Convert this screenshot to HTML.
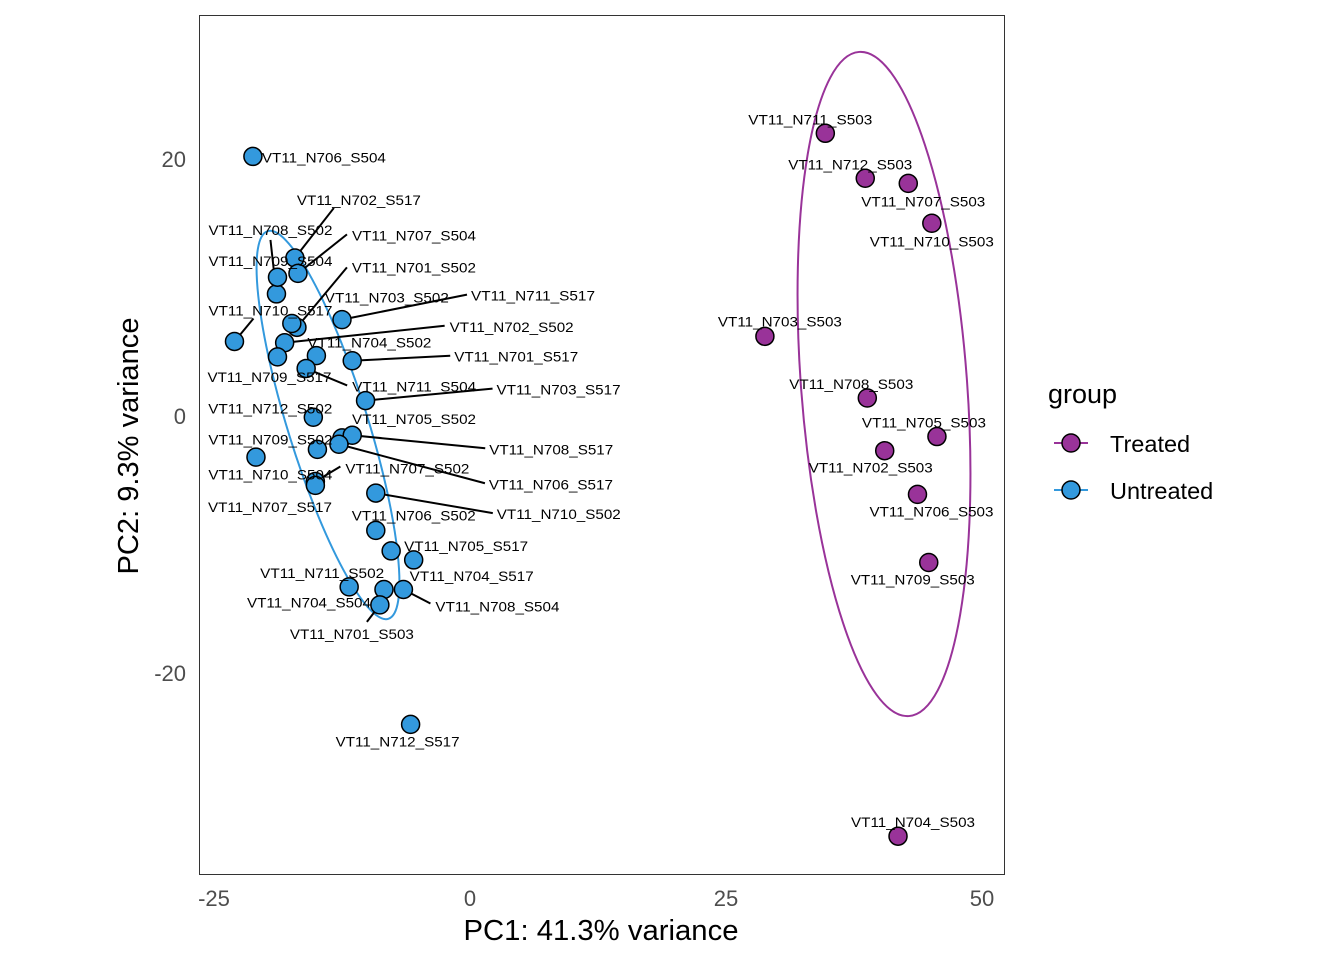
<!DOCTYPE html>
<html><head><meta charset="utf-8"><style>
body{margin:0;background:#fff;}
svg text{font-family:"Liberation Sans",Arial,sans-serif;}
</style></head><body>
<svg id="chart" width="1344" height="960" xmlns="http://www.w3.org/2000/svg">
<rect x="199.5" y="15.5" width="805" height="859" fill="#fff" stroke="#333" stroke-width="1"/>
<g id="ellipses"></g>
<g id="lines"></g>
<g id="points"></g>
<g id="labels"></g>
<g id="axes"></g>
<text x="601" y="940" font-size="29" text-anchor="middle" fill="#000" textLength="275" lengthAdjust="spacingAndGlyphs">PC1: 41.3% variance</text>
<text transform="translate(138,446) rotate(-90)" font-size="29" text-anchor="middle" fill="#000" textLength="257" lengthAdjust="spacingAndGlyphs">PC2: 9.3% variance</text>
<g>
<text x="1048" y="403" font-size="27" fill="#000">group</text>
<g>
<line x1="1054" y1="443" x2="1088" y2="443" stroke="#993399" stroke-width="2"/>
<circle cx="1071" cy="443" r="9" fill="#993399" stroke="#000" stroke-width="1.5"/>
<text x="1110" y="452" font-size="23.5" fill="#000">Treated</text></g>
<g>
<line x1="1054" y1="490" x2="1088" y2="490" stroke="#3399dd" stroke-width="2"/>
<circle cx="1071" cy="490" r="9" fill="#3399dd" stroke="#000" stroke-width="1.5"/>
<text x="1110" y="499" font-size="23.5" fill="#000">Untreated</text></g>
</g>
</svg>
<script>
const names=["N706_S504","N702_S517","N708_S502","N707_S504","N709_S504","N701_S502","N710_S517","N703_S502","N711_S517","N702_S502","N704_S502","N701_S517","N709_S517","N711_S504","N703_S517","N712_S502","N705_S502","N709_S502","N708_S517","N706_S517","N707_S502","N710_S504","N710_S502","N707_S517","N706_S502","N705_S517","N704_S517","N711_S502","N708_S504","N704_S504","N701_S503","N712_S517",
"N711_S503","N712_S503","N707_S503","N710_S503","N703_S503","N708_S503","N705_S503","N702_S503","N706_S503","N709_S503","N704_S503"];
const pc1=[-21.2,-17.1,-18.9,-16.8,-18.8,-16.9,-23.0,-17.4,-12.5,-18.1,-15.0,-11.5,-18.8,-16.0,-10.2,-15.3,-12.5,-14.9,-11.5,-12.8,-15.1,-15.1,-9.2,-20.9,-9.2,-7.7,-5.5,-11.8,-6.5,-8.4,-8.8,-5.8,
34.7,38.6,42.8,45.1,28.8,38.8,45.6,40.5,43.7,44.8,41.8];
const pc2=[20.2,12.3,9.5,11.1,10.8,6.9,5.8,7.2,7.5,5.7,4.7,4.3,4.6,3.7,1.2,-0.1,-1.7,-2.6,-1.5,-2.2,-5.1,-5.4,-6.0,-3.2,-8.9,-10.5,-11.2,-13.3,-13.5,-13.5,-14.7,-24.0,
22.0,18.5,18.1,15.0,6.2,1.4,-1.6,-2.7,-6.1,-11.4,-32.7];
const groups=Array(32).fill("Untreated").concat(Array(11).fill("Treated"));
const xTicks=[-25,0,25,50];
const yTicks=[-20,0,20];
// label layout (repel offsets, px)
const labOff=[[71,1],[64,-58],[-6,-64],[116,-38],[-7,-16],[117,-60],[36,-31],[95,-26],[191,-24],[227,-16],[53,-13],[164,-4],[-8,20],[108,18],[193,-11],[-43,-9],[72,-19],[-47,-10],[199,14],[212,40],[92,-13],[-45,-11],[183,21],[14,50],[38,-15],[75,-5],[58,16],[-27,-14],[94,17],[-75,13],[-28,29],[-13,17],
[-15,-14],[-15,-14],[15,18],[0,18],[15,-15],[-16,-14],[-13,-14],[-14,17],[14,17],[-16,17],[15,-14]];
const segOff=[null,[39,-50],[-6,-54],[49,-39],null,[50,-60],[19,-23],null,[125,-25],[160,-17],null,[98,-5],null,[41,17],[127,-12],null,null,null,[133,13],[146,39],[25,-15],null,[117,20],null,null,null,null,null,[27,14],null,[-13,17],null,
null,null,null,null,null,null,null,null,null,null,null];
const colors={Treated:"#993399",Untreated:"#3399dd"};
const X=v=>470+v*10.24, Y=v=>416-v*12.85;
const NS="http://www.w3.org/2000/svg";
function mk(tag,attrs,parent){const e=document.createElementNS(NS,tag);for(const k in attrs)e.setAttribute(k,attrs[k]);document.getElementById(parent).appendChild(e);return e;}
let e1=mk("ellipse",{cx:884,cy:384,rx:83,ry:333,transform:"rotate(-4.3 884 384)",fill:"none",stroke:"#993399","stroke-width":2},"ellipses");


let e2=mk("ellipse",{cx:328,cy:425,rx:40,ry:203,transform:"rotate(-17.3 328 425)",fill:"none",stroke:"#3399dd","stroke-width":2},"ellipses");


for(let i=0;i<names.length;i++){
 const px=X(pc1[i]),py=Y(pc2[i]);
 const c=mk("circle",{cx:px,cy:py,r:9,fill:colors[groups[i]],stroke:"#000","stroke-width":1.5},"points");
 
 
 if(segOff[i]){
  const l=mk("line",{x1:px,y1:py,x2:px+segOff[i][0],y2:py+segOff[i][1],stroke:"#000","stroke-width":2},"lines");
  
  
 }
 const t=mk("text",{x:px+labOff[i][0],y:py+labOff[i][1]+5,"font-size":14,"text-anchor":"middle",fill:"#000",textLength:124,lengthAdjust:"spacingAndGlyphs"},"labels");
 t.textContent="VT11_"+names[i];
 
 
}
xTicks.forEach(v=>{const t=mk("text",{x:X(v),y:906,"font-size":22,"text-anchor":"middle",fill:"#4d4d4d"},"axes");t.textContent=v;
 
 });
yTicks.forEach(v=>{const t=mk("text",{x:186,y:Y(v)+8,"font-size":22,"text-anchor":"end",fill:"#4d4d4d"},"axes");t.textContent=v;
 
 });
</script>
</body></html>
